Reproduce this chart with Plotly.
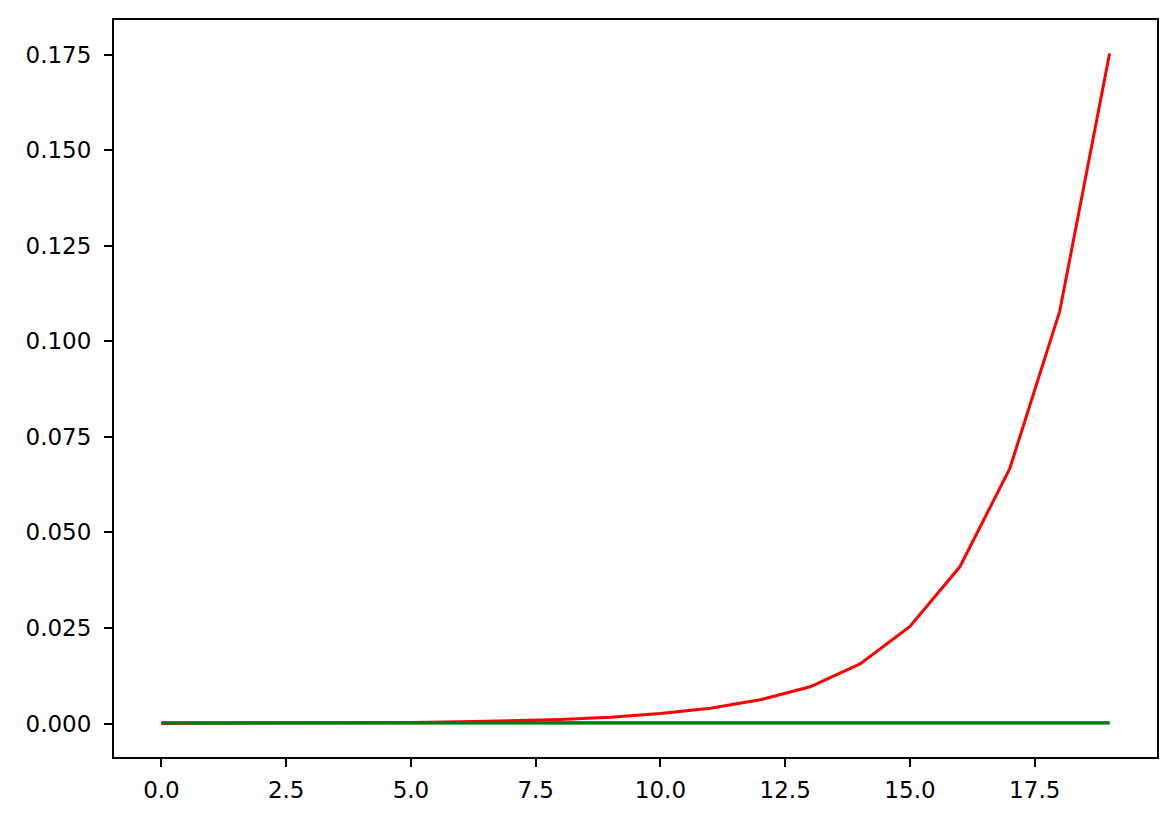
import plotly.graph_objects as go

x_vals = list(range(20))
red_vals = [0.00003, 0.00005, 0.00007, 0.00011, 0.00018, 0.00028, 0.00044, 0.00068,
            0.00106, 0.00165, 0.0026, 0.0040, 0.0062, 0.0096, 0.0156, 0.0254,
            0.0410, 0.0667, 0.1078, 0.1753]
blue_vals = [0.0002] * 20
green_vals = [0.0001] * 20

y_ticks = [0.0, 0.025, 0.05, 0.075, 0.1, 0.125, 0.15, 0.175]
y_labels = ["0.000", "0.025", "0.050", "0.075", "0.100", "0.125", "0.150", "0.175"]
x_ticks = [0.0, 2.5, 5.0, 7.5, 10.0, 12.5, 15.0, 17.5]
x_labels = ["0.0", "2.5", "5.0", "7.5", "10.0", "12.5", "15.0", "17.5"]

fig = go.Figure()
fig.add_trace(go.Scatter(x=x_vals, y=red_vals, mode="lines", line=dict(color="red", width=3)))
fig.add_trace(go.Scatter(x=x_vals, y=blue_vals, mode="lines", line=dict(color="#1f5f9f", width=3)))
fig.add_trace(go.Scatter(x=x_vals, y=green_vals, mode="lines", line=dict(color="green", width=3)))

ymin, ymax = 0.0, max(red_vals)
ypad = (ymax - ymin) * 0.05
xpad = 19 * 0.05

axis_common = dict(showgrid=False, zeroline=False, showline=True, linecolor="black", linewidth=2,
                   mirror=True, ticks="outside", ticklen=8, tickwidth=2, tickcolor="black",
                   tickfont=dict(family="DejaVu Sans", size=23, color="black"))

fig.update_xaxes(range=[-xpad, 19 + xpad], tickmode="array", tickvals=x_ticks, ticktext=x_labels,
                 ticklabelstandoff=3, **axis_common)
fig.update_yaxes(range=[ymin - ypad, ymax + ypad], tickmode="array", tickvals=y_ticks, ticktext=y_labels,
                 ticklabelstandoff=8, **axis_common)

fig.update_layout(width=1174, height=822, showlegend=False,
                  margin=dict(l=106, r=25, t=10, b=73),
                  plot_bgcolor="white", paper_bgcolor="white")

fig.write_html("out.html")
